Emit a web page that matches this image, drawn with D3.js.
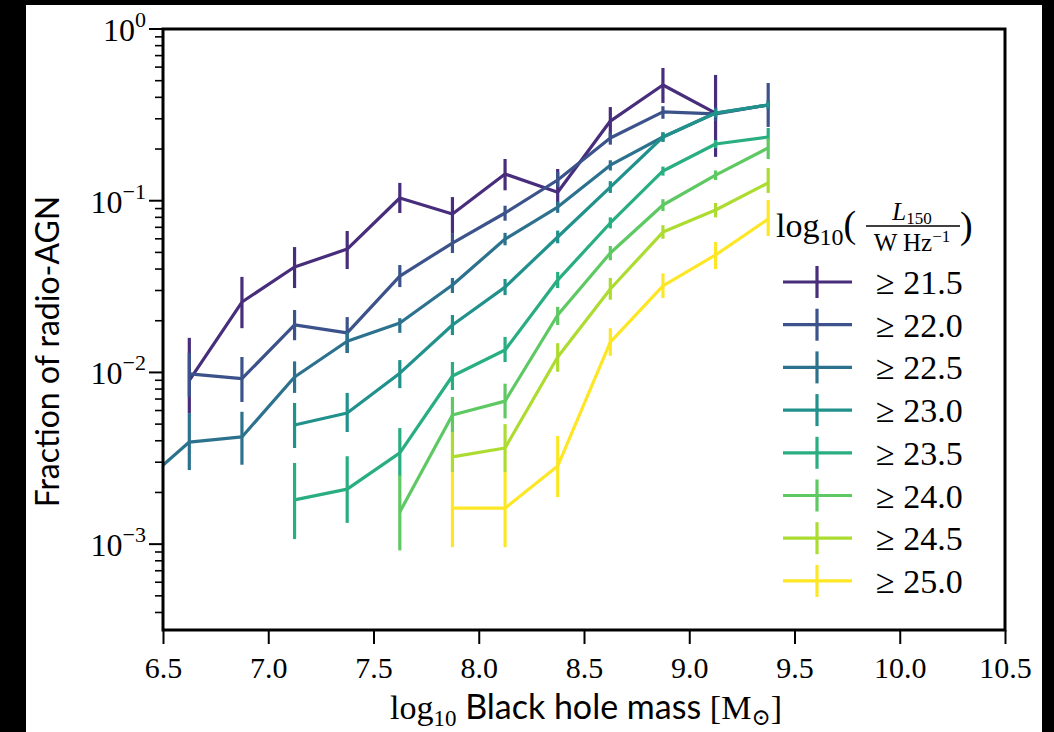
<!DOCTYPE html>
<html>
<head>
<meta charset="utf-8">
<script src="https://cdn.jsdelivr.net/npm/d3@7"></script>
<style>
  html, body { margin: 0; padding: 0; background: #000; }
  svg { display: block; }
  .serif { font-family: "Liberation Serif", "DejaVu Serif", serif; }
  .sans { font-family: "Lato", "Liberation Sans", sans-serif; }
</style>
</head>
<body>
<svg id="chart" width="1054" height="732"></svg>
<script>
// Black hole mass bin centres (log10 M_sun)
const massBins = [6.375, 6.625, 6.875, 7.125, 7.375, 7.625, 7.875, 8.125, 8.375, 8.625, 8.875, 9.125, 9.375];

// Luminosity thresholds, log10(L150 / W Hz^-1)
const thresholds = ["21.5", "22.0", "22.5", "23.0", "23.5", "24.0", "24.5", "25.0"];

// Radio-AGN fraction per threshold, with lower / upper uncertainty bounds
const frac215 = [null, 0.0090, 0.0257, 0.0411, 0.0523, 0.1037, 0.0837, 0.143, 0.112, 0.291, 0.472, 0.324, null];
const lo215   = [null, 0.0058, 0.0181, 0.0310, 0.0400, 0.0848, 0.0648, 0.115, 0.0919, 0.235, 0.371, 0.180, null];
const hi215   = [null, 0.0159, 0.0360, 0.0537, 0.0666, 0.127, 0.105, 0.175, 0.153, 0.351, 0.593, 0.540, null];

const frac220 = [null, 0.0098, 0.0092, 0.0189, 0.0170, 0.0364, 0.0567, 0.0848, 0.132, 0.232, 0.329, 0.320, 0.361];
const lo220   = [null, 0.0072, 0.00673, 0.0154, 0.0130, 0.0314, 0.0496, 0.0765, 0.120, 0.212, 0.300, 0.292, 0.269];
const hi220   = [null, 0.0130, 0.0123, 0.0231, 0.0210, 0.0422, 0.0648, 0.0935, 0.147, 0.250, 0.355, 0.350, 0.485];

const frac225 = [0.00212, 0.00393, 0.00421, 0.0094, 0.0152, 0.0194, 0.0323, 0.0598, 0.0919, 0.161, 0.235, 0.324, 0.361];
const lo225   = [0.0009, 0.0027, 0.0029, 0.0076, 0.0130, 0.0170, 0.0290, 0.0550, 0.0850, 0.150, 0.220, 0.305, 0.340];
const hi225   = [0.0040, 0.0058, 0.0059, 0.0116, 0.0172, 0.0207, 0.0355, 0.0650, 0.0990, 0.172, 0.250, 0.345, 0.385];

const frac230 = [null, null, null, 0.00494, 0.0058, 0.0099, 0.0189, 0.0314, 0.0615, 0.120, 0.235, 0.324, 0.361];
const lo230   = [null, null, null, 0.00363, 0.0045, 0.0081, 0.0165, 0.0282, 0.0565, 0.111, 0.222, 0.308, 0.347];
const hi230   = [null, null, null, 0.00664, 0.0076, 0.0118, 0.0216, 0.0350, 0.0670, 0.130, 0.250, 0.340, 0.375];

const frac235 = [null, null, null, 0.00181, 0.00209, 0.0034, 0.00953, 0.0135, 0.0345, 0.0742, 0.149, 0.214, 0.235];
const lo235   = [null, null, null, 0.00107, 0.00133, 0.00249, 0.0079, 0.0115, 0.0310, 0.0690, 0.140, 0.202, 0.225];
const hi235   = [null, null, null, 0.00297, 0.00325, 0.00474, 0.0115, 0.0161, 0.0385, 0.0800, 0.158, 0.226, 0.265];

const frac240 = [null, null, null, null, null, 0.00154, 0.00565, 0.00681, 0.0216, 0.0496, 0.0944, 0.141, 0.203];
const lo240   = [null, null, null, null, null, 0.00092, 0.0045, 0.0054, 0.0189, 0.0450, 0.087, 0.132, 0.175];
const hi240   = [null, null, null, null, null, 0.00252, 0.0072, 0.0086, 0.0241, 0.0545, 0.102, 0.150, 0.232];

const frac245 = [null, null, null, null, null, null, 0.00322, 0.00363, 0.0123, 0.0306, 0.0657, 0.0883, 0.127];
const lo245   = [null, null, null, null, null, null, 0.00263, 0.00263, 0.0101, 0.0265, 0.060, 0.080, 0.111];
const hi245   = [null, null, null, null, null, null, 0.0045, 0.0050, 0.0148, 0.0355, 0.072, 0.097, 0.155];

const frac250 = [null, null, null, null, null, null, 0.00162, 0.00162, 0.00285, 0.0150, 0.0319, 0.0483, 0.0782];
const lo250   = [null, null, null, null, null, null, 0.00096, 0.00096, 0.00188, 0.0125, 0.0271, 0.0400, 0.0623];
const hi250   = [null, null, null, null, null, null, 0.00263, 0.00263, 0.00426, 0.0181, 0.0377, 0.0575, 0.101];

const xTicks = [6.5, 7.0, 7.5, 8.0, 8.5, 9.0, 9.5, 10.0, 10.5];
const yDecades = [0, -1, -2, -3];

const seriesValues = [frac215, frac220, frac225, frac230, frac235, frac240, frac245, frac250];
const seriesLo = [lo215, lo220, lo225, lo230, lo235, lo240, lo245, lo250];
const seriesHi = [hi215, hi220, hi225, hi230, hi235, hi240, hi245, hi250];

const series = thresholds.map((t, i) => ({
  label: t,
  color: d3.interpolateViridis((i + 1) / thresholds.length),
  points: massBins.map((m, j) => ({ m, v: seriesValues[i][j], lo: seriesLo[i][j], hi: seriesHi[i][j] }))
                  .filter(p => p.v != null)
}));

const svg = d3.select("#chart");

// white figure canvas inside the dark frame
svg.append("rect").attr("x", 26).attr("y", 5).attr("width", 1016).attr("height", 727).attr("fill", "#fff");

const plot = { left: 163, right: 1005, top: 29, bottom: 630 };

const x = d3.scaleLinear().domain([6.5, 10.5]).range([plot.left, plot.right]);
const y = d3.scaleLog().domain([Math.pow(10, -3.5), 1]).range([plot.bottom, plot.top]);

svg.append("defs").append("clipPath").attr("id", "plotclip")
  .append("rect").attr("x", plot.left).attr("y", plot.top)
  .attr("width", plot.right - plot.left).attr("height", plot.bottom - plot.top);

const g = svg.append("g").attr("clip-path", "url(#plotclip)");

const line = d3.line().x(d => x(d.m)).y(d => y(d.v));

series.forEach(s => {
  const sg = g.append("g");
  sg.append("path").datum(s.points)
    .attr("d", line).attr("fill", "none")
    .attr("stroke", s.color).attr("stroke-width", 3.2).attr("stroke-linejoin", "round");
  sg.selectAll("line.err").data(s.points).enter().append("line")
    .attr("x1", d => x(d.m)).attr("x2", d => x(d.m))
    .attr("y1", d => y(d.lo)).attr("y2", d => y(d.hi))
    .attr("stroke", s.color).attr("stroke-width", 3.2);
});

// x axis
const xAxis = d3.axisBottom(x).tickValues(xTicks).tickSize(14).tickFormat(d3.format(".1f"));
const xg = svg.append("g").attr("transform", `translate(0,${plot.bottom})`).call(xAxis);
xg.select(".domain").remove();
xg.selectAll(".tick line").attr("stroke", "#000").attr("stroke-width", 2);
xg.selectAll(".tick text").attr("class", "serif").attr("font-size", 30).attr("fill", "#000")
  .attr("y", 48).attr("dy", 0);

// y axis: major ticks at decades, minor ticks at 2..9
const minor = [];
for (let e = -4; e < 0; e++) for (let k = 2; k <= 9; k++) {
  const v = k * Math.pow(10, e);
  if (v >= Math.pow(10, -3.5) && v <= 1) minor.push(v);
}
const yg = svg.append("g");
yg.selectAll("line.minor").data(minor).enter().append("line")
  .attr("x1", plot.left - 8).attr("x2", plot.left)
  .attr("y1", d => y(d)).attr("y2", d => y(d))
  .attr("stroke", "#000").attr("stroke-width", 1.6);
yg.selectAll("line.major").data(yDecades).enter().append("line")
  .attr("x1", plot.left - 14).attr("x2", plot.left)
  .attr("y1", d => y(Math.pow(10, d))).attr("y2", d => y(Math.pow(10, d)))
  .attr("stroke", "#000").attr("stroke-width", 2);
const yl = yg.selectAll("text.ylab").data(yDecades).enter().append("text")
  .attr("class", "serif").attr("font-size", 32).attr("fill", "#000")
  .attr("text-anchor", "end")
  .attr("x", plot.left - 17).attr("y", d => y(Math.pow(10, d)) + 12);
yl.append("tspan").text("10");
yl.append("tspan").attr("dy", -14).attr("font-size", 22).text(d => d === 0 ? "0" : "\u2212" + (-d));

// frame
svg.append("rect").attr("x", plot.left).attr("y", plot.top)
  .attr("width", plot.right - plot.left).attr("height", plot.bottom - plot.top)
  .attr("fill", "none").attr("stroke", "#000").attr("stroke-width", 3);

// axis labels
svg.append("text").attr("class", "sans").attr("font-size", 32).attr("fill", "#000")
  .attr("text-anchor", "middle")
  .attr("transform", `translate(59,${(plot.top + plot.bottom) / 2 + 22}) rotate(-90)`)
  .text("Fraction of radio-AGN");

const xl = svg.append("text").attr("font-size", 34).attr("fill", "#000")
  .attr("text-anchor", "middle").attr("x", (plot.left + plot.right) / 2 + 2).attr("y", 719);
xl.append("tspan").attr("class", "serif").text("log");
xl.append("tspan").attr("class", "serif").attr("font-size", 23).attr("dy", 7).text("10");
xl.append("tspan").attr("class", "sans").attr("dy", -7).text(" Black hole mass ");
xl.append("tspan").attr("class", "serif").text("[M");
xl.append("tspan").attr("class", "serif").attr("font-size", 23).attr("dy", 6).text("\u2299");
xl.append("tspan").attr("class", "serif").attr("dy", -6).text("]");

// legend
const lg = svg.append("g");
const title = lg.append("text").attr("class", "serif").attr("font-size", 34).attr("fill", "#000")
  .attr("x", 776).attr("y", 237);
title.append("tspan").text("log");
title.append("tspan").attr("font-size", 24).attr("dy", 8).text("10");
title.append("tspan").attr("dy", -8).attr("font-size", 38).text("(");
lg.append("text").attr("class", "serif").attr("font-size", 25).attr("font-style", "italic")
  .attr("x", 912).attr("y", 220).attr("text-anchor", "middle")
  .call(t => { t.append("tspan").text("L"); t.append("tspan").attr("font-style", "normal").attr("font-size", 17).attr("dy", 4).text("150"); });
lg.append("line").attr("x1", 866).attr("x2", 960).attr("y1", 226).attr("y2", 226)
  .attr("stroke", "#000").attr("stroke-width", 1.3);
lg.append("text").attr("class", "serif").attr("font-size", 25)
  .attr("x", 912).attr("y", 251).attr("text-anchor", "middle")
  .call(t => { t.append("tspan").text("W Hz"); t.append("tspan").attr("font-size", 17).attr("dy", -9).text("\u22121"); });
lg.append("text").attr("class", "serif").attr("font-size", 38).attr("x", 960).attr("y", 238).text(")");

series.forEach((s, i) => {
  const cy = 282 + i * 42.7;
  const row = lg.append("g");
  row.append("line").attr("x1", 783).attr("x2", 852).attr("y1", cy).attr("y2", cy)
    .attr("stroke", s.color).attr("stroke-width", 3.2);
  row.append("line").attr("x1", 817).attr("x2", 817).attr("y1", cy - 16).attr("y2", cy + 16)
    .attr("stroke", s.color).attr("stroke-width", 3.2);
  row.append("text").attr("class", "serif").attr("font-size", 34).attr("fill", "#000")
    .attr("x", 876).attr("y", cy + 12).text("\u2265 " + s.label);
});
</script>
</body>
</html>
